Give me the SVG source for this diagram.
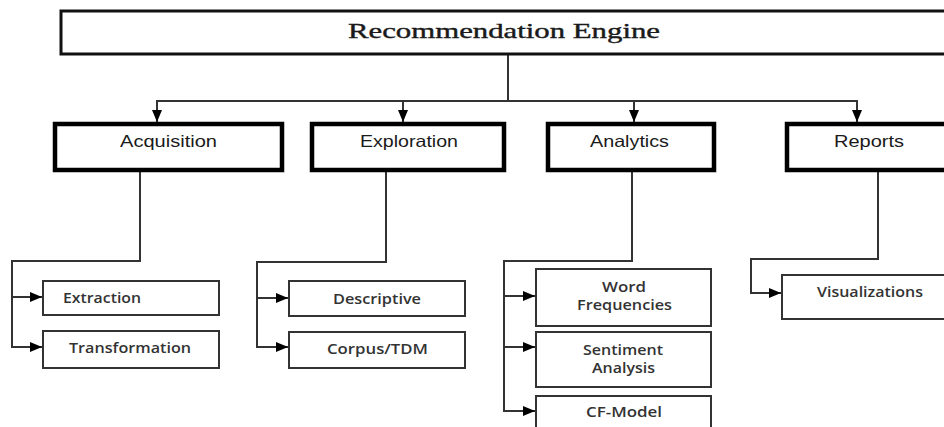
<svg xmlns="http://www.w3.org/2000/svg" width="944" height="427" viewBox="0 0 944 427">
<style>
.top{fill:#fff;stroke:#111;stroke-width:3}
.l2{fill:#fff;stroke:#000;stroke-width:4.5}
.l3{fill:#fff;stroke:#333;stroke-width:2}
.t1{font-family:"Liberation Serif",serif;font-size:22px;fill:#1a1a1a;stroke:#1a1a1a;stroke-width:0.4}
.t2{font-family:"Liberation Sans",Arial,sans-serif;font-size:16.5px;fill:#1a1a1a}
.t3{font-family:"Open Sans","Noto Sans",sans-serif;font-size:14.5px;font-weight:600;fill:#333}
.c{fill:none;stroke:#333;stroke-width:2}
</style>
<defs>
<marker id="ah" viewBox="0 0 12 10" refX="12" refY="5" markerWidth="12" markerHeight="10" markerUnits="userSpaceOnUse" orient="auto">
<path d="M0,0 L12,5 L0,10 Z" fill="#000"/>
</marker>
</defs>
<g id="connectors">
<path class="c" d="M508,55 V101 H157 V122" marker-end="url(#ah)"/>
<path class="c" d="M508,101 H403 V122" marker-end="url(#ah)"/>
<path class="c" d="M508,101 H634 V122" marker-end="url(#ah)"/>
<path class="c" d="M508,101 H857 V122" marker-end="url(#ah)"/>
<path class="c" d="M140,171 V261 H12 V347 H42" marker-end="url(#ah)"/>
<path class="c" d="M12,297 H42" marker-end="url(#ah)"/>
<path class="c" d="M386,171 V262 H257 V347 H288" marker-end="url(#ah)"/>
<path class="c" d="M257,298 H288" marker-end="url(#ah)"/>
<path class="c" d="M632,171 V261 H504 V411 H535" marker-end="url(#ah)"/>
<path class="c" d="M504,296 H535" marker-end="url(#ah)"/>
<path class="c" d="M504,347 H535" marker-end="url(#ah)"/>
<path class="c" d="M878,171 V259 H751 V293 H781" marker-end="url(#ah)"/>
</g>
<g id="recommendation-engine">
<rect class="top" x="61" y="11" width="900" height="43"/>
<text class="t1" x="348" y="38" textLength="312" lengthAdjust="spacingAndGlyphs">Recommendation Engine</text>
</g>
<g id="acquisition">
<rect class="l2" x="55" y="124" width="227" height="46"/>
<text class="t2" x="120" y="147" textLength="97" lengthAdjust="spacingAndGlyphs">Acquisition</text>
</g>
<g id="exploration">
<rect class="l2" x="312" y="124" width="192" height="46"/>
<text class="t2" x="360" y="147" textLength="98" lengthAdjust="spacingAndGlyphs">Exploration</text>
</g>
<g id="analytics">
<rect class="l2" x="548" y="124" width="166" height="46"/>
<text class="t2" x="590" y="147" textLength="79" lengthAdjust="spacingAndGlyphs">Analytics</text>
</g>
<g id="reports">
<rect class="l2" x="787" y="124" width="170" height="46"/>
<text class="t2" x="834" y="147" textLength="70" lengthAdjust="spacingAndGlyphs">Reports</text>
</g>
<g id="extraction">
<rect class="l3" x="43" y="281" width="176" height="34"/>
<text class="t3" x="63" y="303" textLength="78" lengthAdjust="spacingAndGlyphs">Extraction</text>
</g>
<g id="transformation">
<rect class="l3" x="43" y="331" width="176" height="37"/>
<text class="t3" x="69" y="353" textLength="122" lengthAdjust="spacingAndGlyphs">Transformation</text>
</g>
<g id="descriptive">
<rect class="l3" x="289" y="281" width="176" height="35"/>
<text class="t3" x="333" y="304" textLength="88" lengthAdjust="spacingAndGlyphs">Descriptive</text>
</g>
<g id="corpus-tdm">
<rect class="l3" x="289" y="332" width="176" height="36"/>
<text class="t3" x="327" y="354" textLength="101" lengthAdjust="spacingAndGlyphs">Corpus/TDM</text>
</g>
<g id="word-frequencies">
<rect class="l3" x="536" y="269" width="175" height="57"/>
<text class="t3" x="602" y="292" textLength="44" lengthAdjust="spacingAndGlyphs">Word</text>
<text class="t3" x="577" y="310" textLength="95" lengthAdjust="spacingAndGlyphs">Frequencies</text>
</g>
<g id="sentiment-analysis">
<rect class="l3" x="536" y="332" width="175" height="55"/>
<text class="t3" x="583" y="355" textLength="80" lengthAdjust="spacingAndGlyphs">Sentiment</text>
<text class="t3" x="592" y="373" textLength="63" lengthAdjust="spacingAndGlyphs">Analysis</text>
</g>
<g id="cf-model">
<rect class="l3" x="536" y="396" width="175" height="40"/>
<text class="t3" x="586" y="417" textLength="76" lengthAdjust="spacingAndGlyphs">CF-Model</text>
</g>
<g id="visualizations">
<rect class="l3" x="782" y="275" width="180" height="44"/>
<text class="t3" x="817" y="297" textLength="106" lengthAdjust="spacingAndGlyphs">Visualizations</text>
</g>
</svg>
